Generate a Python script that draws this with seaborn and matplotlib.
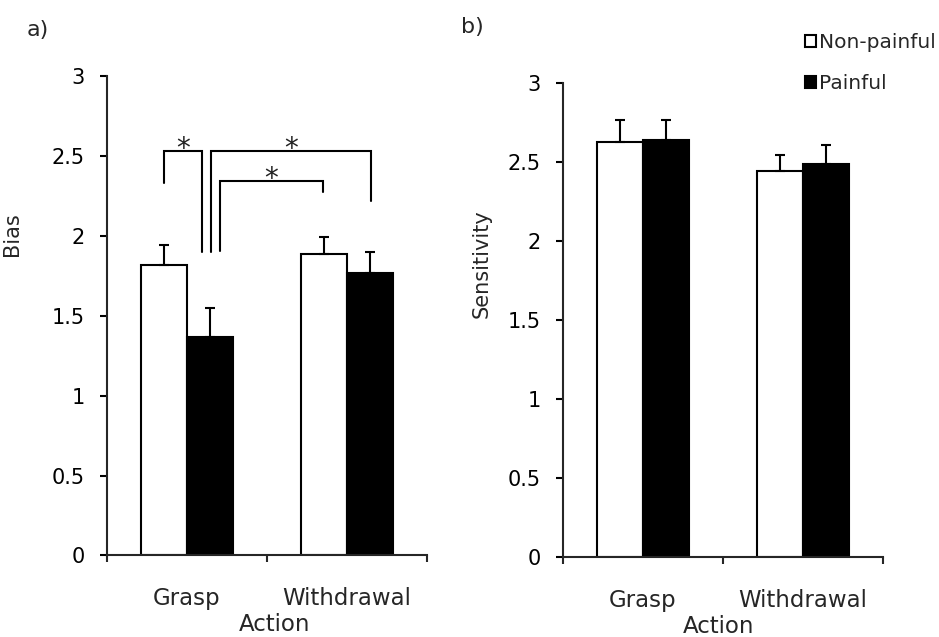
import numpy as np
import pandas as pd
import matplotlib
matplotlib.use("Agg")
import matplotlib.pyplot as plt
from matplotlib.patches import Patch
from matplotlib.ticker import FuncFormatter
import seaborn as sns

# ---- data -------------------------------------------------------------
actions = ["Grasp", "Withdrawal"]
stimuli = ["Non-painful", "Painful"]

bias_nonpainful = [1.82, 1.885]
bias_painful = [1.37, 1.765]
bias_err_nonpainful = [0.12, 0.105]
bias_err_painful = [0.18, 0.135]

sens_nonpainful = [2.63, 2.447]
sens_painful = [2.64, 2.489]
sens_err_nonpainful = [0.14, 0.10]
sens_err_painful = [0.13, 0.12]

yticks = [0, 0.5, 1, 1.5, 2, 2.5, 3]

# significance brackets on the bias panel: (x_left, x_right, y_left, y_top, y_right)
brackets = [
    (-0.142, 0.092, 2.33, 2.53, 1.90),
    (0.150, 1.150, 1.90, 2.53, 2.22),
    (0.206, 0.850, 1.906, 2.34, 2.275),
]

# ---- styling ----------------------------------------------------------
sns.set_style("ticks")
plt.rcParams["font.family"] = ["DejaVu Sans"]
LW = 1.5
plt.rcParams["axes.linewidth"] = LW

palette = {"Non-painful": "white", "Painful": "black"}


def make_frame(nonpainful, painful, err_np, err_p, name):
    rows = []
    for i, a in enumerate(actions):
        rows.append({"Action": a, "Stimulus": "Non-painful", name: nonpainful[i], "err": err_np[i]})
        rows.append({"Action": a, "Stimulus": "Painful", name: painful[i], "err": err_p[i]})
    return pd.DataFrame(rows)


def draw_panel(ax, df, name, label_xy):
    sns.barplot(data=df, x="Action", y=name, hue="Stimulus", order=actions,
                hue_order=stimuli, palette=palette, edgecolor="black",
                linewidth=LW, width=0.575, errorbar=None, legend=False, ax=ax)
    # upper-only error bars placed on the bars seaborn drew
    for level, cont in zip(stimuli, ax.containers):
        sub = df[df["Stimulus"] == level].set_index("Action").loc[actions]
        xs = [b.get_x() + b.get_width() / 2 for b in cont]
        hs = [b.get_height() for b in cont]
        errs = sub["err"].to_numpy()
        ax.errorbar(xs, hs, yerr=[np.zeros_like(errs), errs], fmt="none",
                    ecolor="black", elinewidth=LW, capsize=3.8, capthick=LW,
                    zorder=1)
    ax.set_xlim(-0.5, 1.5)
    ax.set_ylim(0, 3)
    ax.set_yticks(yticks)
    ax.yaxis.set_major_formatter(FuncFormatter(lambda v, p: f"{v:g}"))
    ax.tick_params(axis="y", direction="out", length=5, width=LW,
                   labelsize=15, pad=11, colors="black")
    ax.set_xticks([0, 1])
    ax.set_xticklabels(actions)
    ax.set_xticks([-0.5, 0.5, 1.5], minor=True)
    ax.tick_params(axis="x", which="major", length=0, labelsize=16.5, pad=23)
    ax.tick_params(axis="x", which="minor", direction="out", length=5, width=LW)
    sns.despine(ax=ax)
    ax.set_xlabel("Action", fontsize=16.5)
    ax.set_ylabel(name, fontsize=15)
    ax.xaxis.set_label_coords(*label_xy[0])
    ax.yaxis.set_label_coords(*label_xy[1])


fig = plt.figure(figsize=(9.39, 6.37), dpi=100)
ax_a = fig.add_axes([0.1140, 0.1280, 0.3408, 0.7527])
ax_b = fig.add_axes([0.5993, 0.1251, 0.3408, 0.7441])

bias_df = make_frame(bias_nonpainful, bias_painful, bias_err_nonpainful, bias_err_painful, "Bias")
sens_df = make_frame(sens_nonpainful, sens_painful, sens_err_nonpainful, sens_err_painful, "Sensitivity")

draw_panel(ax_a, bias_df, "Bias", ((0.525, -0.12), (-0.265, 0.67)))
draw_panel(ax_b, sens_df, "Sensitivity", ((0.488, -0.121), (-0.222, 0.619)))

# significance brackets with stars
for xl, xr, yl, yt, yr in brackets:
    ax_a.plot([xl, xl, xr, xr], [yl, yt, yt, yr], color="black", lw=LW,
              solid_joinstyle="miter", clip_on=False)
    ax_a.text((xl + xr) / 2, yt - 0.034, "*", ha="center", va="baseline",
              fontsize=20, color="#222222")

# panel letters
fig.text(27 / 939, 1 - 30 / 637, "a)", fontsize=16, ha="left", va="center")
fig.text(461 / 939, 1 - 27 / 637, "b)", fontsize=16, ha="left", va="center")

# legend
handles = [Patch(facecolor=palette[s], edgecolor="black", linewidth=LW) for s in stimuli]
fig.legend(handles, stimuli, loc="upper left", bbox_to_anchor=(805 / 939, 1 - 33 / 637),
           frameon=False, fontsize=14.5, handlelength=0.55, handleheight=0.55,
           handletextpad=0.15, labelspacing=1.08, borderpad=0, borderaxespad=0)

fig.savefig("out.png", dpi=100)
